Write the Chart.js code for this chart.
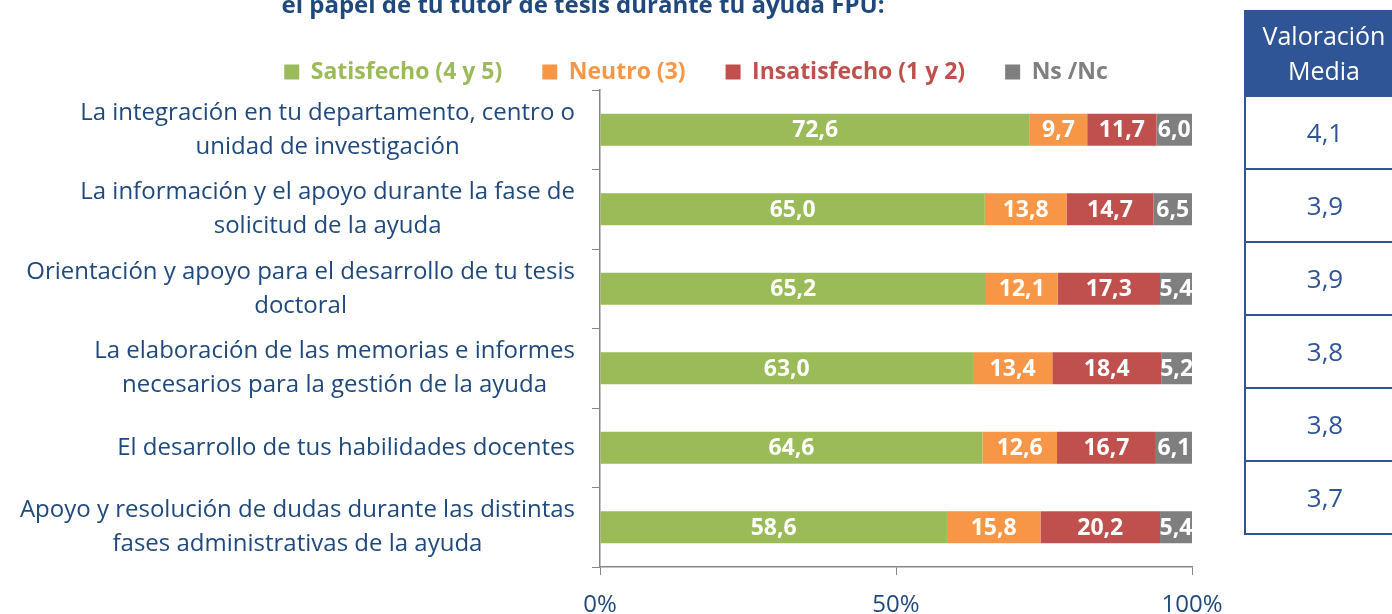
<!DOCTYPE html>
<html>
<head>
<meta charset="utf-8">
<script src="https://cdn.jsdelivr.net/npm/chart.js@4/dist/chart.umd.min.js"></script>
<style>
  html, body { margin: 0; padding: 0; background: #fff; }
  #wrap { position: relative; width: 1392px; height: 614px; overflow: hidden; }
  #chart { position: absolute; left: 0; top: 0; }
  #tabla { position: absolute; left: 1244px; top: 10px; width: 160px; font-family: "Open Sans", sans-serif; }
  #tabla .cab { background: #2F5597; color: #fff; font-size: 25px; line-height: 35px; height: 87px;
                box-sizing: border-box; padding-top: 8px; text-align: center; }
  #tabla .fila { height: 73px; box-sizing: border-box; border-left: 2px solid #2F5597; border-bottom: 2px solid #2F5597;
                 color: #2F5597; font-size: 26px; line-height: 71px; text-align: center; }
</style>
</head>
<body>
<div id="wrap">
  <canvas id="chart" width="1392" height="614"></canvas>
  <div id="tabla"></div>
</div>
<script>
var categorias = [
    ["La integración en tu departamento, centro o", "unidad de investigación"],
    ["La información y el apoyo durante la fase de", "solicitud de la ayuda"],
    ["Orientación y apoyo para el desarrollo de tu tesis", "doctoral"],
    ["La elaboración de las memorias e informes", "necesarios para la gestión de la ayuda"],
    ["El desarrollo de tus habilidades docentes"],
    ["Apoyo y resolución de dudas durante las distintas", "fases administrativas de la ayuda"]
];
var satisfecho   = [72.6, 65.0, 65.2, 63.0, 64.6, 58.6];
var neutro       = [9.7, 13.8, 12.1, 13.4, 12.6, 15.8];
var insatisfecho = [11.7, 14.7, 17.3, 18.4, 16.7, 20.2];
var nsnc         = [6.0, 6.5, 5.4, 5.2, 6.1, 5.4];
var valoracion   = ["4,1", "3,9", "3,9", "3,8", "3,8", "3,7"];
var titulo = "el papel de tu tutor de tesis durante tu ayuda FPU:";

var azul = "#1F497D";
var fuente = "'Open Sans', sans-serif";

// tabla de la derecha
var t = document.getElementById("tabla");
var h = '<div class="cab">Valoración<br>Media</div>';
valoracion.forEach(function (v) { h += '<div class="fila">' + v + '</div>'; });
t.innerHTML = h;

function coma(v) { return v.toFixed(1).replace(".", ","); }

// etiquetas blancas dentro de cada segmento
var etiquetas = {
    id: "etiquetas",
    afterDatasetsDraw: function (chart) {
        var ctx = chart.ctx, area = chart.chartArea;
        ctx.save();
        ctx.beginPath();
        ctx.rect(area.left, area.top, area.right - area.left, area.bottom - area.top);
        ctx.clip();
        ctx.font = "bold 23px " + fuente;
        ctx.fillStyle = "#fff";
        ctx.textAlign = "center";
        ctx.textBaseline = "middle";
        chart.data.datasets.forEach(function (ds, i) {
            chart.getDatasetMeta(i).data.forEach(function (bar, j) {
                ctx.fillText(coma(ds.data[j]), (bar.x + bar.base) / 2, bar.y + 1);
            });
        });
        ctx.restore();
    }
};

// etiquetas de categorias: bloque alineado a la derecha, lineas centradas
var categoriasEje = {
    id: "categoriasEje",
    afterDraw: function (chart) {
        var ctx = chart.ctx, y = chart.scales.y;
        ctx.save();
        ctx.font = "24px " + fuente;
        ctx.fillStyle = azul;
        ctx.textAlign = "center";
        ctx.textBaseline = "middle";
        categorias.forEach(function (lineas, i) {
            var w = 0;
            lineas.forEach(function (l) { w = Math.max(w, ctx.measureText(l).width); });
            var cx = 575 - w / 2, cy = y.getPixelForValue(i);
            lineas.forEach(function (l, k) {
                ctx.fillText(l, cx, cy + (k - (lineas.length - 1) / 2) * 34);
            });
        });
        ctx.restore();
    }
};

// recolocar titulo y leyenda
var mover = {
    id: "mover",
    afterLayout: function (chart) {
        var lg = chart.legend, tb = chart.titleBlock;
        lg.left += 100; lg.right += 100; lg.top += 3.5; lg.bottom += 3.5;
        tb.left -= 13; tb.right -= 13; tb.top += 3.6; tb.bottom += 3.6;
    }
};

new Chart(document.getElementById("chart"), {
    type: "bar",
    data: {
        labels: categorias,
        datasets: [
            { label: "Satisfecho (4 y 5)", data: satisfecho, backgroundColor: "#9BBB59" },
            { label: "Neutro (3)", data: neutro, backgroundColor: "#F79646" },
            { label: "Insatisfecho (1 y 2)", data: insatisfecho, backgroundColor: "#C0504D" },
            { label: "Ns /Nc", data: nsnc, backgroundColor: "#7F7F7F" }
        ]
    },
    options: {
        indexAxis: "y",
        responsive: false,
        animation: false,
        categoryPercentage: 1,
        barPercentage: 0.4,
        layout: { padding: { left: 0, right: 200, top: -11.8, bottom: 0 } },
        scales: {
            x: {
                stacked: true, min: 0, max: 100,
                grid: { drawOnChartArea: false, tickLength: 8, color: "#868686" },
                border: { color: "#868686", width: 1.5 },
                ticks: { stepSize: 50, color: azul, font: { family: fuente, size: 24 }, padding: 16,
                         callback: function (v) { return v + "%"; } },
                afterFit: function (s) { s.height = 47; s.paddingLeft = 0; s.paddingRight = 0; }
            },
            y: {
                stacked: true,
                grid: { drawOnChartArea: false, tickLength: 8, color: "#868686", offset: true },
                border: { color: "#868686", width: 1.5 },
                ticks: { display: false },
                afterFit: function (s) { s.width = 600; }
            }
        },
        plugins: {
            title: {
                display: true, text: titulo, color: azul,
                font: { family: fuente, size: 24, weight: "bold" },
                padding: 0
            },
            legend: {
                position: "top",
                labels: {
                    boxWidth: 15, boxHeight: 15, padding: 40,
                    font: { family: fuente, size: 23, weight: "bold" },
                    generateLabels: function (chart) {
                        return chart.data.datasets.map(function (ds, i) {
                            return { text: ds.label, fillStyle: ds.backgroundColor, strokeStyle: ds.backgroundColor,
                                     fontColor: ds.backgroundColor, lineWidth: 0, datasetIndex: i };
                        });
                    }
                }
            },
            tooltip: { enabled: false }
        }
    },
    plugins: [etiquetas, categoriasEje, mover]
});
</script>
</body>
</html>
